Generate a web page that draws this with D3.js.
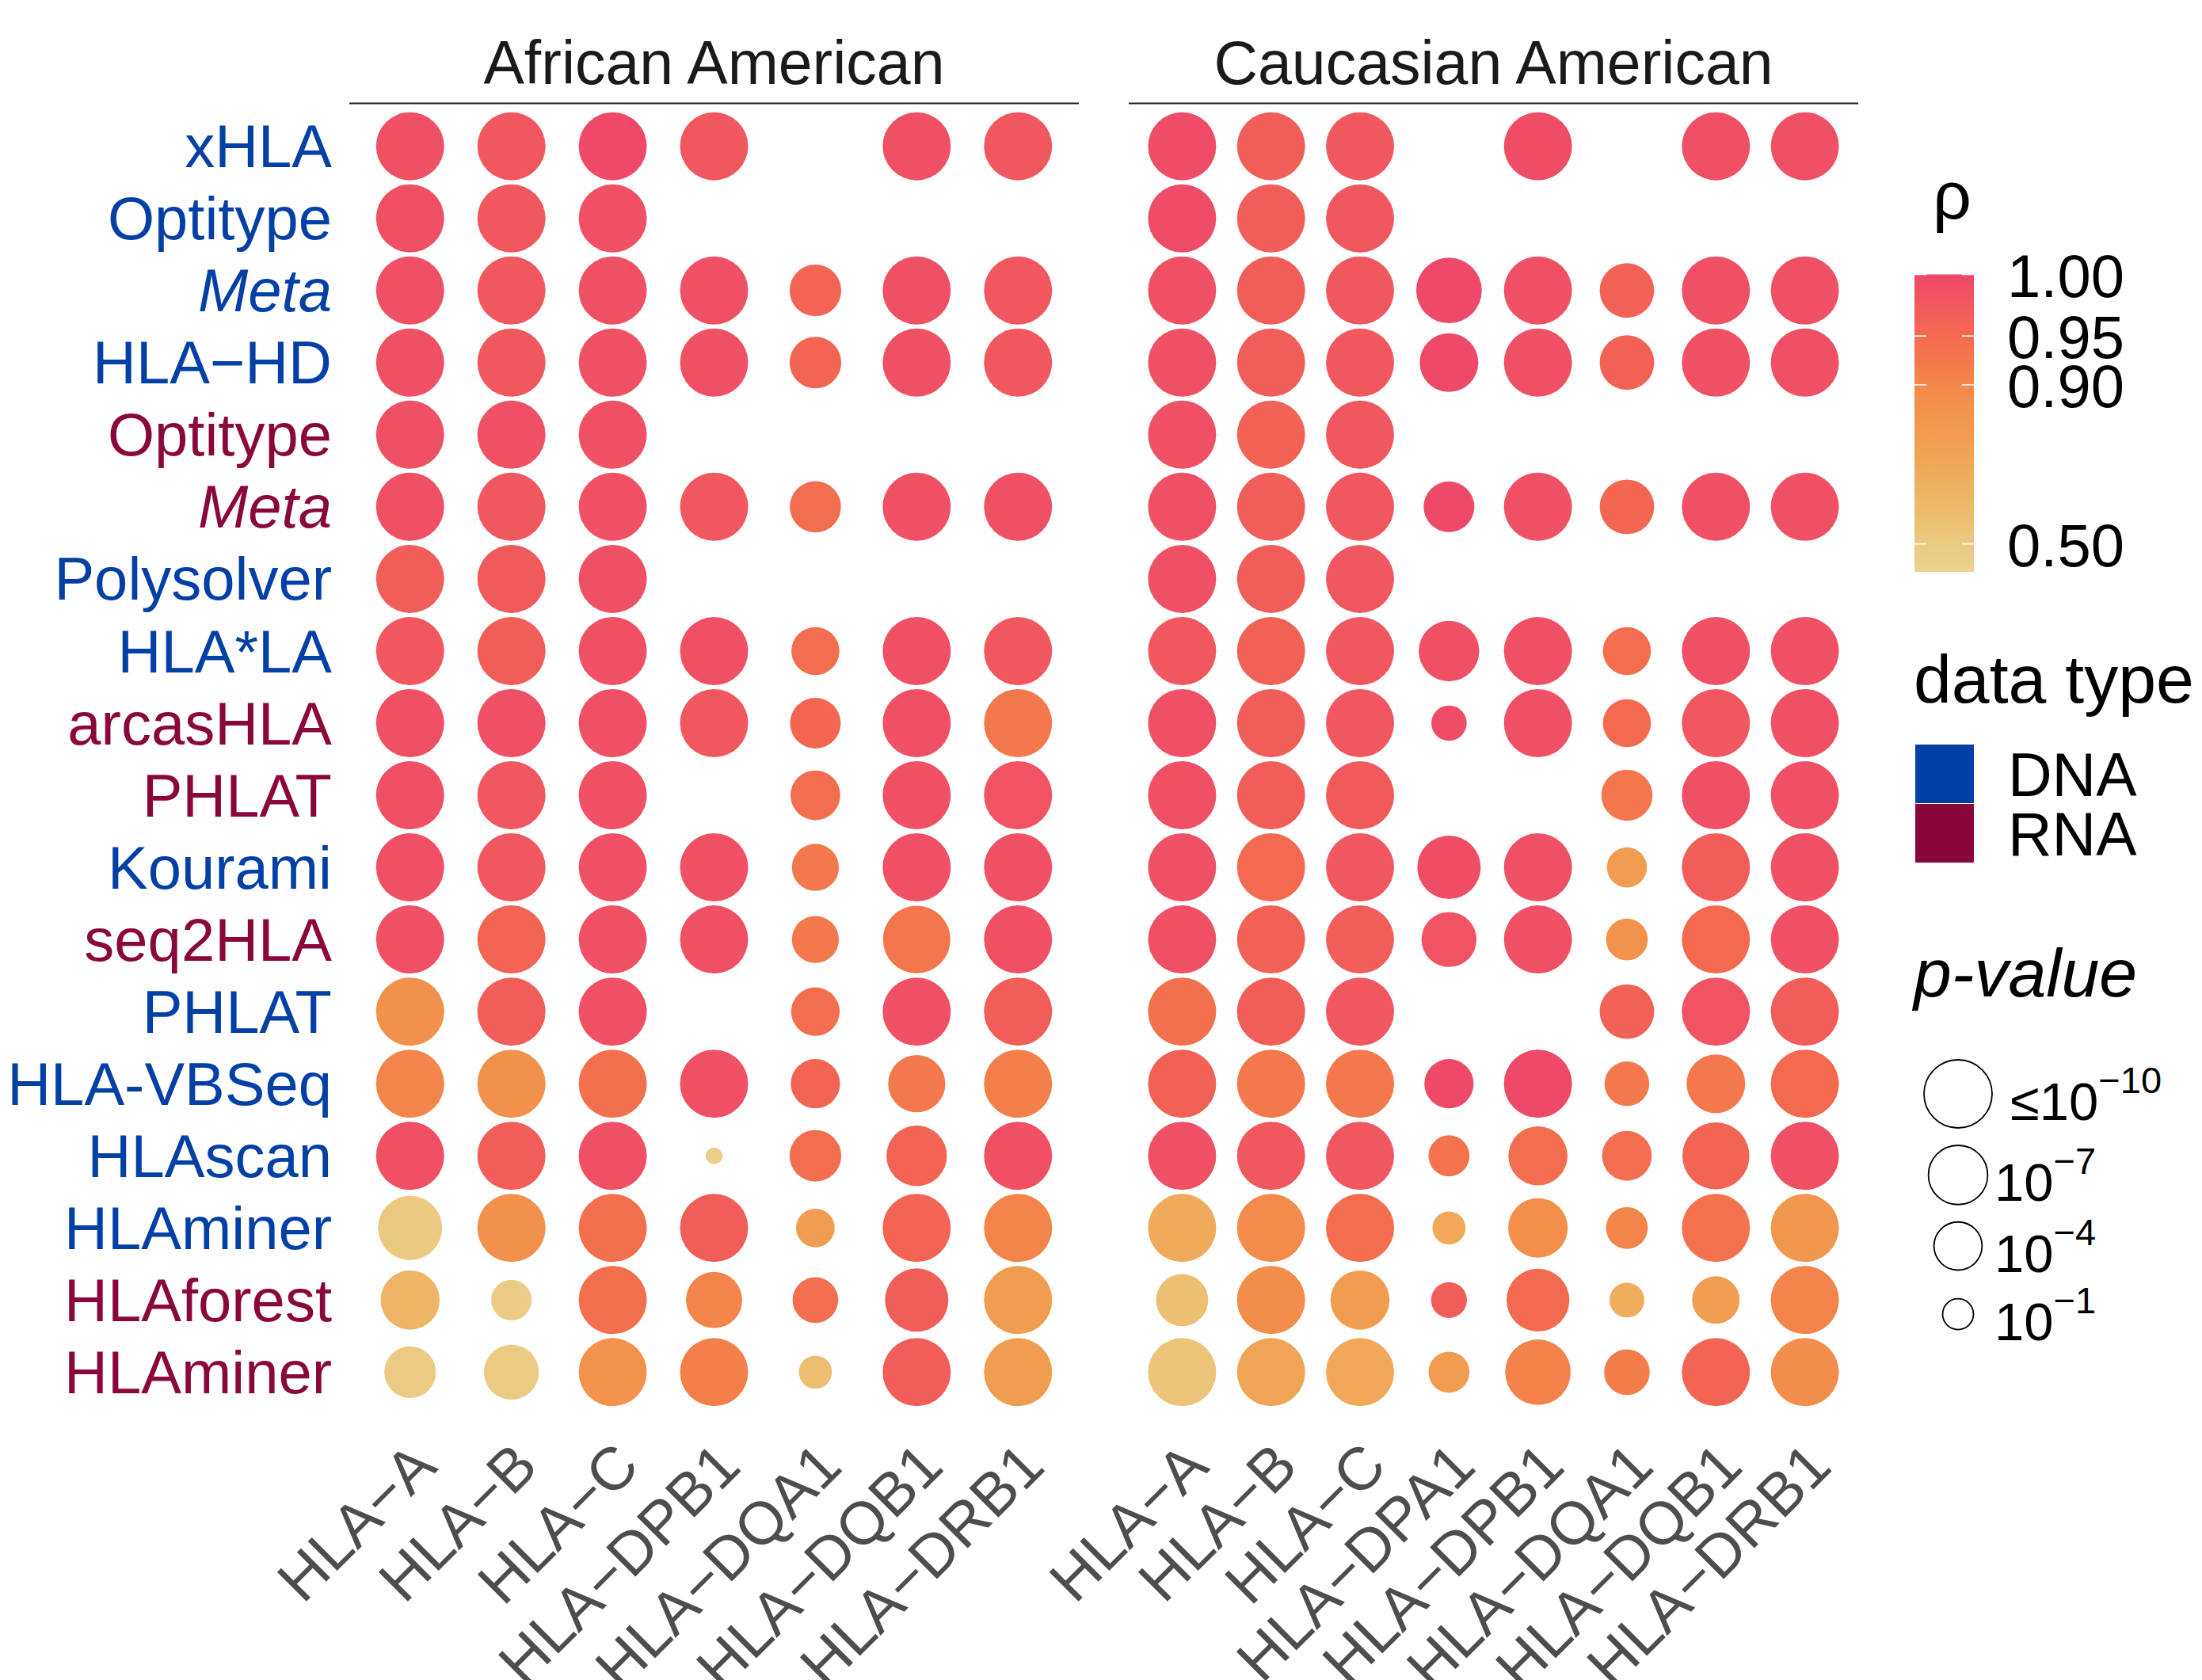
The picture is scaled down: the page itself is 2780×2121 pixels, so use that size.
<!DOCTYPE html>
<html>
<head>
<meta charset="utf-8">
<script src="https://cdn.jsdelivr.net/npm/d3@7"></script>
<style>
  body { margin: 0; background: #ffffff; }
  svg { display: block; }
  text { font-family: "Liberation Sans", Arial, Helvetica, sans-serif; }
</style>
</head>
<body>
<svg id="chart" width="2780" height="2121"></svg>
<script>
// ---- data -----------------------------------------------------------------
// typing tools, top to bottom
const tools = ["xHLA", "Optitype", "Meta", "HLA\u2212HD", "Optitype", "Meta", "Polysolver",
  "HLA*LA", "arcasHLA", "PHLAT", "Kourami", "seq2HLA", "PHLAT", "HLA-VBSeq", "HLAscan",
  "HLAminer", "HLAforest", "HLAminer"];
const dataTypes = ["DNA", "DNA", "DNA", "DNA", "RNA", "RNA", "DNA", "DNA", "RNA", "RNA",
  "DNA", "RNA", "DNA", "DNA", "DNA", "DNA", "RNA", "RNA"];
const italicTools = ["Meta"];

const populations = ["African American", "Caucasian American"];
const genesAA = ["HLA\u2212A", "HLA\u2212B", "HLA\u2212C", "HLA\u2212DPB1", "HLA\u2212DQA1", "HLA\u2212DQB1", "HLA\u2212DRB1"];
const genesCA = ["HLA\u2212A", "HLA\u2212B", "HLA\u2212C", "HLA\u2212DPA1", "HLA\u2212DPB1", "HLA\u2212DQA1", "HLA\u2212DQB1", "HLA\u2212DRB1"];

// Spearman rho per tool (row) and gene (column); null = not typed
const rhoAA = [
  [0.99, 0.98, 0.997, 0.98, null, 0.99, 0.98],
  [0.99, 0.98, 0.99, null, null, null, null],
  [0.99, 0.98, 0.99, 0.99, 0.96, 0.99, 0.98],
  [0.99, 0.98, 0.99, 0.99, 0.96, 0.99, 0.98],
  [0.99, 0.99, 0.99, null, null, null, null],
  [0.99, 0.98, 0.99, 0.98, 0.945, 0.99, 0.99],
  [0.97, 0.975, 0.99, null, null, null, null],
  [0.98, 0.97, 0.99, 0.99, 0.945, 0.99, 0.98],
  [0.99, 0.99, 0.99, 0.98, 0.955, 0.99, 0.925],
  [0.99, 0.98, 0.99, null, 0.945, 0.99, 0.985],
  [0.99, 0.98, 0.99, 0.99, 0.925, 0.99, 0.99],
  [0.99, 0.96, 0.99, 0.99, 0.925, 0.93, 0.99],
  [0.875, 0.97, 0.99, null, 0.945, 0.99, 0.97],
  [0.905, 0.875, 0.94, 0.99, 0.96, 0.925, 0.915],
  [0.99, 0.97, 0.99, 0.42, 0.945, 0.96, 0.99],
  [0.52, 0.875, 0.94, 0.97, 0.83, 0.96, 0.905],
  [0.70, 0.47, 0.94, 0.905, 0.945, 0.97, 0.83],
  [0.50, 0.49, 0.87, 0.915, 0.64, 0.97, 0.83]
];
// -log10(p-value), capped at 10
const logPAA = [
  [10, 10, 10, 10, null, 10, 10],
  [10, 10, 10, null, null, null, null],
  [10, 10, 10, 10, 4.87, 10, 10],
  [10, 10, 10, 10, 4.87, 10, 10],
  [10, 10, 10, null, null, null, null],
  [10, 10, 10, 10, 4.75, 10, 10],
  [10, 10, 10, null, null, null, null],
  [10, 10, 10, 10, 3.98, 10, 10],
  [10, 10, 10, 10, 4.63, 10, 10],
  [10, 10, 10, null, 4.39, 10, 10],
  [10, 10, 10, 10, 3.76, 10, 10],
  [10, 10, 10, 10, 3.76, 9.77, 10],
  [10, 10, 10, null, 4.09, 10, 10],
  [10, 10, 10, 10, 4.28, 6.39, 10],
  [10, 10, 10, 0.034, 4.87, 7.4, 10],
  [8.6, 10, 10, 10, 2.11, 10, 10],
  [6.96, 2.44, 10, 6.11, 3.45, 8.33, 10],
  [4.87, 5.76, 10, 10, 1.28, 10, 10]
];

const rhoCA = [
  [0.995, 0.97, 0.98, null, 0.993, null, 0.99, 0.99],
  [0.995, 0.97, 0.98, null, null, null, null, null],
  [0.99, 0.97, 0.98, 0.997, 0.99, 0.965, 0.99, 0.99],
  [0.99, 0.97, 0.98, 0.997, 0.99, 0.965, 0.99, 0.99],
  [0.99, 0.962, 0.98, null, null, null, null, null],
  [0.99, 0.97, 0.98, 0.997, 0.99, 0.955, 0.99, 0.99],
  [0.99, 0.97, 0.98, null, null, null, null, null],
  [0.98, 0.965, 0.98, 0.99, 0.99, 0.945, 0.99, 0.99],
  [0.99, 0.97, 0.98, 0.993, 0.99, 0.95, 0.98, 0.99],
  [0.99, 0.97, 0.975, null, null, 0.93, 0.99, 0.99],
  [0.99, 0.95, 0.98, 0.993, 0.99, 0.83, 0.97, 0.99],
  [0.99, 0.965, 0.97, 0.985, 0.99, 0.87, 0.95, 0.99],
  [0.94, 0.97, 0.98, null, null, 0.965, 0.985, 0.97],
  [0.965, 0.925, 0.925, 0.997, 0.997, 0.925, 0.925, 0.95],
  [0.99, 0.98, 0.98, 0.935, 0.945, 0.945, 0.96, 0.99],
  [0.77, 0.89, 0.945, 0.78, 0.88, 0.905, 0.935, 0.85],
  [0.62, 0.885, 0.83, 0.97, 0.95, 0.75, 0.83, 0.905],
  [0.57, 0.80, 0.78, 0.83, 0.91, 0.92, 0.96, 0.885]
];
const logPCA = [
  [10, 10, 10, null, 10, null, 10, 10],
  [10, 10, 10, null, null, null, null, null],
  [10, 10, 10, 9.09, 10, 5.63, 10, 10],
  [10, 10, 10, 6.82, 10, 5.63, 10, 10],
  [10, 10, 10, null, null, null, null, null],
  [10, 10, 10, 4.63, 10, 5.63, 10, 10],
  [10, 10, 10, null, null, null, null, null],
  [10, 10, 10, 7.4, 10, 3.98, 10, 10],
  [10, 10, 10, 1.59, 10, 3.98, 10, 10],
  [10, 10, 10, null, null, 4.75, 10, 10],
  [10, 10, 10, 8.33, 10, 2.36, 10, 10],
  [10, 10, 10, 5.76, 10, 2.68, 10, 10],
  [10, 10, 10, null, null, 5.63, 10, 10],
  [10, 10, 10, 4.28, 10, 3.25, 6.82, 10],
  [10, 10, 10, 2.53, 6.96, 4.39, 9.6, 10],
  [10, 10, 10, 1.28, 7.1, 2.68, 10, 10],
  [4.99, 10, 6.96, 1.66, 8.17, 1.52, 3.87, 10],
  [10, 10, 10, 2.53, 9.09, 3.45, 10, 10]
];

// legend breaks
const rhoBreaks = [1.00, 0.95, 0.90, 0.50];
const rhoLimits = [-0.09, 1.0];
const pBreaks = [10, 7, 4, 1];
const pBreakLabels = [["\u226410", "\u221210"], ["10", "\u22127"], ["10", "\u22124"], ["10", "\u22121"]];

// ---- scales ---------------------------------------------------------------
const typeColor = { DNA: "#0340A6", RNA: "#8A073C" };

// colour bar runs on an exponential transform of rho
const expK = 4.6;
const tr = r => Math.exp(expK * r);
const barTop = 346.5, barBottom = 722, barX = 2417, barW = 75;
const yBar = d3.scaleLinear().domain([tr(rhoLimits[0]), tr(rhoLimits[1])]).range([barBottom, barTop]);
const barStops = [0, 0.107, 0.211, 0.31, 0.373, 0.489, 0.622, 0.755, 0.843, 0.906, 1];
const barColors = ["#EE486A", "#F15A5B", "#F36B50", "#F37C4B", "#F3884A", "#F2974D",
  "#F0A657", "#EEB566", "#ECC175", "#EBCA83", "#EAD391"];
const colorAlong = d3.scaleLinear().domain(barStops).range(barColors).interpolate(d3.interpolateRgb);
const color = r => colorAlong((yBar(tr(r)) - barTop) / (barBottom - barTop));

const size = d3.scaleSqrt().domain([0, 10]).range([8.6, 43]).clamp(true);

const panelTop = 130, panelBottom = 1787;
const y = d3.scalePoint().domain(d3.range(tools.length)).range([panelTop, panelBottom]).padding(0.6);

const svg = d3.select("#chart");
svg.append("rect").attr("width", 2780).attr("height", 2121).attr("fill", "#ffffff");

const panels = [
  { title: populations[0], genes: genesAA, rho: rhoAA, logp: logPAA, x0: 441, x1: 1362 },
  { title: populations[1], genes: genesCA, rho: rhoCA, logp: logPCA, x0: 1425, x1: 2346 }
];

// ---- panels ---------------------------------------------------------------
panels.forEach(p => {
  const x = d3.scalePoint().domain(p.genes).range([p.x0, p.x1]).padding(0.6);
  const g = svg.append("g");

  // strip title with rule underneath
  g.append("text")
    .attr("x", (p.x0 + p.x1) / 2).attr("y", 106)
    .attr("text-anchor", "middle")
    .attr("font-size", 77).attr("fill", "#1A1A1A")
    .text(p.title);
  g.append("line")
    .attr("x1", p.x0).attr("x2", p.x1).attr("y1", 130.5).attr("y2", 130.5)
    .attr("stroke", "#1A1A1A").attr("stroke-width", 2.2);

  const cells = [];
  p.rho.forEach((row, i) => row.forEach((r, j) => {
    if (r !== null) cells.push({ row: i, gene: p.genes[j], rho: r, logp: p.logp[i][j] });
  }));

  g.selectAll("circle.dot").data(cells).join("circle")
    .attr("class", "dot")
    .attr("cx", d => x(d.gene))
    .attr("cy", d => y(d.row))
    .attr("r", d => size(d.logp))
    .attr("fill", d => color(d.rho));

  // rotated gene labels
  g.selectAll("text.gene").data(p.genes).join("text")
    .attr("class", "gene")
    .attr("transform", d => `translate(${x(d)},1818) rotate(-45)`)
    .attr("text-anchor", "end")
    .attr("dy", "0.68em")
    .attr("font-size", 76)
    .attr("fill", "#4D4D4D")
    .text(d => d);
});

// tool labels, coloured by data type
svg.append("g").selectAll("text").data(tools).join("text")
  .attr("x", 419)
  .attr("y", (d, i) => y(i))
  .attr("dy", "0.35em")
  .attr("text-anchor", "end")
  .attr("font-size", 76)
  .attr("font-style", d => italicTools.includes(d) ? "italic" : "normal")
  .attr("fill", (d, i) => typeColor[dataTypes[i]])
  .text(d => d);

// ---- legend: rho colour bar -------------------------------------------------
const leg = svg.append("g");
leg.append("text").attr("x", 2440).attr("y", 276).attr("font-size", 86).attr("fill", "#000").text("\u03C1");

const defs = svg.append("defs");
const grad = defs.append("linearGradient").attr("id", "rhoGrad")
  .attr("x1", 0).attr("y1", 0).attr("x2", 0).attr("y2", 1);
barStops.forEach((s, i) => grad.append("stop").attr("offset", s).attr("stop-color", barColors[i]));
leg.append("rect").attr("x", barX).attr("y", barTop).attr("width", barW).attr("height", barBottom - barTop)
  .attr("fill", "url(#rhoGrad)");
rhoBreaks.forEach(b => {
  const yy = yBar(tr(b));
  leg.append("line").attr("x1", barX).attr("x2", barX + 15).attr("y1", yy).attr("y2", yy)
    .attr("stroke", "#fff").attr("stroke-width", 1.6);
  leg.append("line").attr("x1", barX + barW - 15).attr("x2", barX + barW).attr("y1", yy).attr("y2", yy)
    .attr("stroke", "#fff").attr("stroke-width", 1.6);
  leg.append("text").attr("x", 2534).attr("y", yy + 28).attr("font-size", 76).attr("fill", "#000")
    .text(d3.format(".2f")(b));
});

// ---- legend: data type ------------------------------------------------------
leg.append("text").attr("x", 2416).attr("y", 887).attr("font-size", 86).attr("fill", "#000").text("data type");
["DNA", "RNA"].forEach((t, i) => {
  const top = 940 + i * 75;
  leg.append("rect").attr("x", 2418).attr("y", top).attr("width", 74).attr("height", 74).attr("fill", typeColor[t]);
  leg.append("text").attr("x", 2535).attr("y", top + 37 + 28).attr("font-size", 77).attr("fill", "#000").text(t);
});

// ---- legend: p-value sizes ---------------------------------------------------
leg.append("text").attr("x", 2416).attr("y", 1258).attr("font-size", 86).attr("font-style", "italic")
  .attr("fill", "#000").text("p-value");
let cy = 1381;
pBreaks.forEach((b, i) => {
  if (i > 0) cy += Math.max(size(pBreaks[i - 1]) + size(b) + 22, 86);
  leg.append("circle").attr("cx", 2472).attr("cy", cy).attr("r", size(b))
    .attr("fill", "none").attr("stroke", "#000").attr("stroke-width", 1.8);
  const t = leg.append("text").attr("x", 2518).attr("y", cy + 33).attr("font-size", 67).attr("fill", "#000");
  t.append("tspan").attr("dx", i === 0 ? 20 : 0).text(pBreakLabels[i][0]);
  t.append("tspan").attr("dy", -34).attr("font-size", 47).text(pBreakLabels[i][1]);
});
</script>
</body>
</html>
